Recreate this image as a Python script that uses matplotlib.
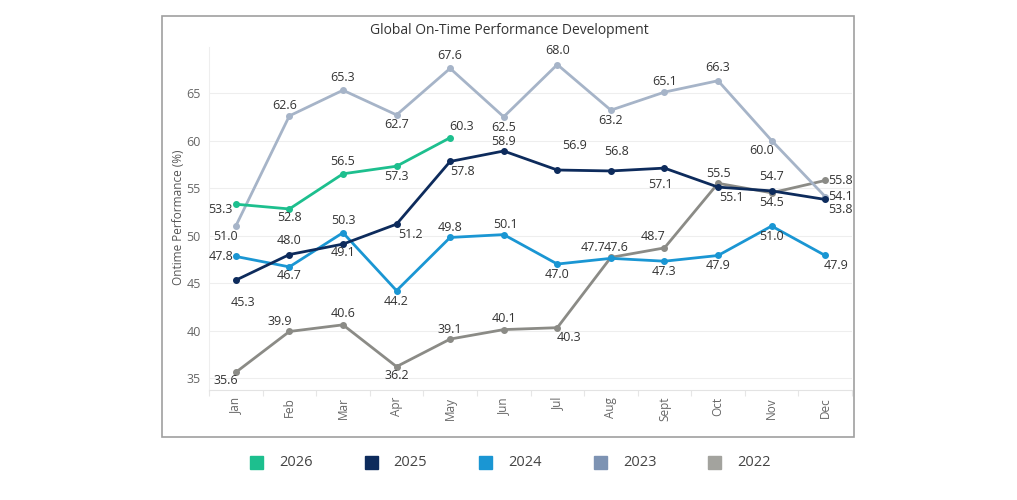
import matplotlib
matplotlib.use("Agg")
import matplotlib.pyplot as plt
from matplotlib.patches import Rectangle

plt.rcParams['font.family'] = ['Open Sans', 'DejaVu Sans']

months = ['Jan', 'Feb', 'Mar', 'Apr', 'May', 'Jun', 'Jul', 'Aug', 'Sept', 'Oct', 'Nov', 'Dec']
years = ['2026', '2025', '2024', '2023', '2022']

otp_2026 = [53.3, 52.8, 56.5, 57.3, 60.3]
otp_2025 = [45.3, 48.0, 49.1, 51.2, 57.8, 58.9, 56.9, 56.8, 57.1, 55.1, 54.7, 53.8]
otp_2024 = [47.8, 46.7, 50.3, 44.2, 49.8, 50.1, 47.0, 47.6, 47.3, 47.9, 51.0, 47.9]
otp_2023 = [51.0, 62.6, 65.3, 62.7, 67.6, 62.5, 68.0, 63.2, 65.1, 66.3, 60.0, 54.1]
otp_2022 = [35.6, 39.9, 40.6, 36.2, 39.1, 40.1, 40.3, 47.7, 48.7, 55.5, 54.5, 55.8]

# line colours and legend swatch colours (slightly different in the original)
line_colors = {'2026': '#1dbf8e', '2025': '#0d2b5c', '2024': '#1a96d3',
               '2023': '#a6b4c8', '2022': '#8b8b86'}
legend_colors = {'2026': '#1dbf8e', '2025': '#0d2b5c', '2024': '#1a96d3',
                 '2023': '#7d93b3', '2022': '#a3a39e'}

# label offsets in pixels (dx, dy) for each point
label_offsets = {
    '2026': [(-15, -5), (0, -9), (0, 12), (0, -10), (11, 11)],
    '2025': [(7, -22), (0, 14), (0, -8), (14, -10), (12, -10), (0, 10),
             (17, 25), (6, 19), (-4, -16), (13, -10), (0, 14), (15, -10)],
    '2024': [(-15, 0), (0, -9), (0, 12), (0, -11), (0, 10), (2, 10),
             (0, -10), (5, 11), (0, -10), (0, -10), (0, -10), (11, -10)],
    '2023': [(-10, -10), (-5, 10), (0, 13), (0, -10), (0, 13), (0, -11),
             (0, 14), (0, -10), (0, 11), (0, 13), (-10, -10), (15, 0)],
    '2022': [(-10, -8), (-10, 10), (0, 11), (0, -9), (0, 10), (0, 11),
             (12, -10), (-18, 10), (-11, 11), (0, 10), (0, -10), (15, 0)],
}

series = {'2022': otp_2022, '2023': otp_2023, '2024': otp_2024,
          '2025': otp_2025, '2026': otp_2026}

fig = plt.figure(figsize=(10.17, 5.0), dpi=100)
ax = fig.add_axes([209 / 1017, 1 - 390 / 500, 643 / 1017, 343 / 500])

for z, yr in enumerate(['2022', '2023', '2024', '2025', '2026']):
    vals = series[yr]
    xs = list(range(len(vals)))
    ax.plot(xs, vals, color=line_colors[yr], lw=2.0, marker='o', ms=4,
            zorder=3 + z, solid_joinstyle='round')
    for x, v, (dx, dy) in zip(xs, vals, label_offsets[yr]):
        ax.annotate(f'{v:.1f}', (x, v), xytext=(dx, dy), textcoords='offset pixels',
                    ha='center', va='center', fontsize=9, color='#333333', zorder=10)

ax.set_xlim(-0.48, 11.47)
ax.set_ylim(33.74, 69.85)
ax.set_yticks([35, 40, 45, 50, 55, 60, 65])
ax.set_xticks(range(12))
ax.set_xticklabels(months, rotation=90)
ax.set_xticks([i + 0.5 for i in range(-1, 12)], minor=True)
ax.tick_params(axis='x', which='major', length=0, pad=5, labelsize=8.5, labelcolor='#666666')
ax.tick_params(axis='x', which='minor', length=4, color='#e6e6e6', width=0.8)
ax.tick_params(axis='y', length=0, pad=6, labelsize=9, labelcolor='#666666')
ax.grid(axis='y', color='#eeeeee', lw=0.8)
ax.set_axisbelow(True)
for s in ['top', 'right']:
    ax.spines[s].set_visible(False)
ax.spines['left'].set_color('#eeeeee')
ax.spines['bottom'].set_color('#e3e3e3')

fig.text(179 / 1017, 1 - 217 / 500, 'Ontime Performance (%)', rotation=90,
         ha='center', va='center', fontsize=8.5, color='#555555')
fig.text(509 / 1017, 1 - 31 / 500, 'Global On-Time Performance Development',
         ha='center', va='center', fontsize=10, color='#333333')

# outer frame
fig.patches.append(Rectangle((162 / 1017, 1 - 437 / 500), 692 / 1017, 421 / 500,
                             transform=fig.transFigure, fill=False,
                             edgecolor='#a0a0a0', lw=1.2))

# legend
for i, yr in enumerate(years):
    x0 = 250 + i * 114.6
    fig.patches.append(Rectangle((x0 / 1017, 1 - 469 / 500), 13 / 1017, 13 / 500,
                                 transform=fig.transFigure, color=legend_colors[yr]))
    fig.text((x0 + 29) / 1017, 1 - 462 / 500, yr, ha='left', va='center',
             fontsize=10.5, color='#444444')

fig.savefig('out.png', dpi=100)
